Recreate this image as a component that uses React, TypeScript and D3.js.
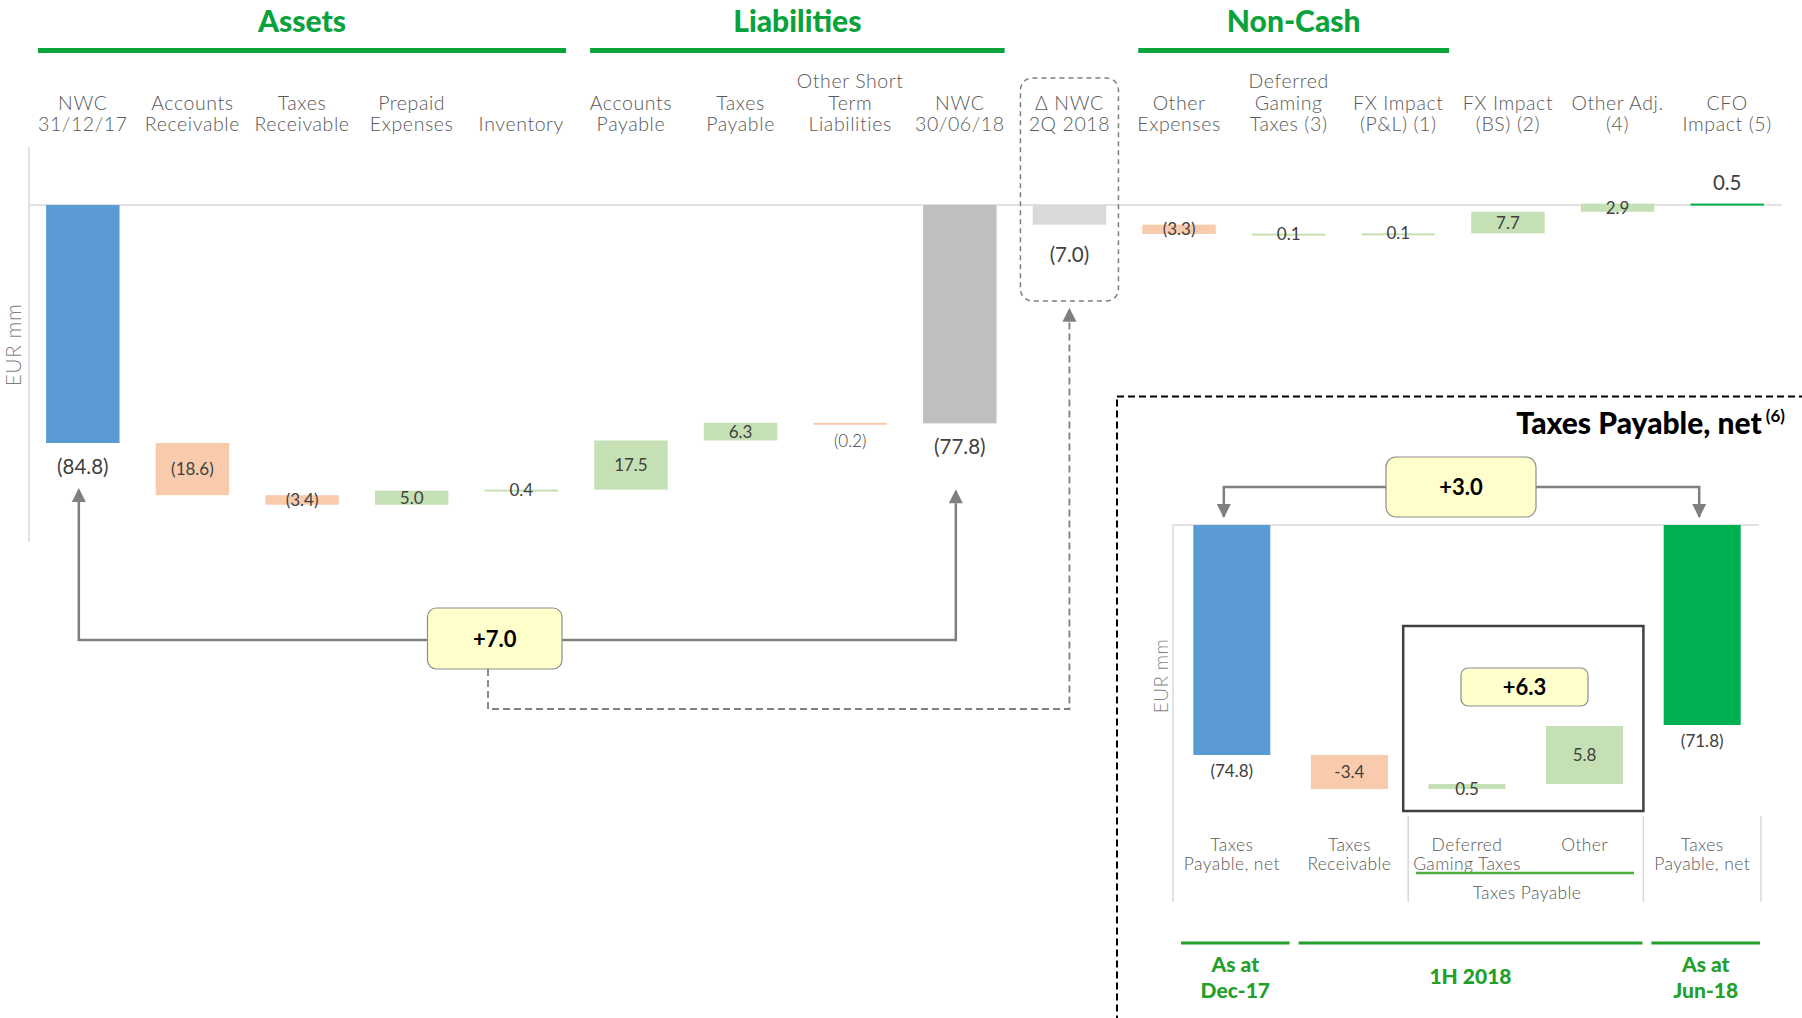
import React from "react";
import * as d3 from "d3";

// ---------- Main waterfall data ----------
const categories = [
  "NWC 31/12/17", "Accounts Receivable", "Taxes Receivable", "Prepaid Expenses", "Inventory",
  "Accounts Payable", "Taxes Payable", "Other Short Term Liabilities", "NWC 30/06/18",
  "Δ NWC 2Q 2018", "Other Expenses", "Deferred Gaming Taxes (3)", "FX Impact (P&L) (1)",
  "FX Impact (BS) (2)", "Other Adj. (4)", "CFO Impact (5)",
];
const categoryLines = [
  ["NWC", "31/12/17"], ["Accounts", "Receivable"], ["Taxes", "Receivable"], ["Prepaid", "Expenses"],
  ["Inventory"], ["Accounts", "Payable"], ["Taxes", "Payable"], ["Other Short", "Term", "Liabilities"],
  ["NWC", "30/06/18"], ["Δ NWC", "2Q 2018"], ["Other", "Expenses"], ["Deferred", "Gaming", "Taxes (3)"],
  ["FX Impact", "(P&L) (1)"], ["FX Impact", "(BS) (2)"], ["Other Adj.", "(4)"], ["CFO", "Impact (5)"],
];
const values = [-84.8, -18.6, -3.4, 5.0, 0.4, 17.5, 6.3, -0.2, -77.8, -7.0, -3.3, 0.1, 0.1, 7.7, 2.9, 0.5];
const kinds = ["total", "delta", "delta", "delta", "delta", "delta", "delta", "delta", "total",
  "total", "delta", "delta", "delta", "delta", "delta", "total"];
const groups = [
  { name: "Assets", from: "NWC 31/12/17", to: "Inventory" },
  { name: "Liabilities", from: "Accounts Payable", to: "NWC 30/06/18" },
  { name: "Non-Cash", from: "Other Expenses", to: "FX Impact (P&L) (1)" },
];
const bridgeLabel = "+7.0";

// ---------- Inset data ----------
const insetCategories = ["Taxes Payable, net Dec-17", "Taxes Receivable", "Deferred Gaming Taxes", "Other", "Taxes Payable, net Jun-18"];
const insetLines = [["Taxes", "Payable, net"], ["Taxes", "Receivable"], ["Deferred", "Gaming Taxes"], ["Other"], ["Taxes", "Payable, net"]];
const insetValues = [-74.8, -3.4, 0.5, 5.8, -71.8];
const insetKinds = ["total", "delta", "delta", "delta", "total"];
const insetLabels = ["(74.8)", "-3.4", "0.5", "5.8", "(71.8)"];
const insetPeriods = [
  { lines: ["As at", "Dec-17"], from: 0, to: 0 },
  { lines: ["1H 2018"], from: 1, to: 3 },
  { lines: ["As at", "Jun-18"], from: 4, to: 4 },
];
const insetTotalChange = "+3.0";
const insetSubChange = "+6.3";

// ---------- styles ----------
const GREEN = "#0AA23B";
const FONT = "Lato, 'Open Sans', sans-serif";
const totalColors: Record<string, string> = {
  "NWC 31/12/17": "#5B9BD5",
  "NWC 30/06/18": "#BFBFBF",
  "Δ NWC 2Q 2018": "#D9D9D9",
  "CFO Impact (5)": "#00B050",
};
const POS = "#C5E0B4";
const NEG = "#F8CBAD";

const fmt = (v: number) => (v < 0 ? `(${Math.abs(v).toFixed(1)})` : v.toFixed(1));

function Arrow({ x, y, dir }: { x: number; y: number; dir: "up" | "down" }) {
  const h = 14, w = 7;
  const pts = dir === "up"
    ? `${x},${y} ${x - w},${y + h} ${x + w},${y + h}`
    : `${x},${y} ${x - w},${y - h} ${x + w},${y - h}`;
  return <polygon points={pts} fill="#7F7F7F" />;
}

export default function App() {
  // main scales
  const x = d3.scaleBand<string>().domain(categories).range([28, 1782]).paddingInner(0.33).paddingOuter(0.165);
  const y = d3.scaleLinear().domain([0, -84.8]).range([205, 443]);
  const bw = x.bandwidth();
  const cx = (c: string) => (x(c) as number) + bw / 2;

  // waterfall computation
  let run = 0;
  const bars = categories.map((c, i) => {
    const v = values[i];
    let start: number, end: number;
    if (kinds[i] === "total") {
      start = 0; end = v; run = v;
    } else {
      start = run; end = run + v; run = end;
    }
    return { c, v, start, end, kind: kinds[i], i };
  });

  // inset scales
  const xi = d3.scaleBand<string>().domain(insetCategories).range([1173, 1761]).paddingInner(0.345).paddingOuter(0.1725);
  const yi = d3.scaleLinear().domain([-51.8, -74.8]).range([525, 755]);
  const ibw = xi.bandwidth();
  const icx = (c: string) => (xi(c) as number) + ibw / 2;
  let irun = 0;
  const ibars = insetCategories.map((c, i) => {
    const v = insetValues[i];
    let start: number, end: number;
    if (insetKinds[i] === "total") { start = -51.8; end = v; irun = v; }
    else { start = irun; end = irun + v; irun = end; }
    return { c, v, start, end, kind: insetKinds[i], i };
  });

  const nwc1 = cx(categories[0]);
  const nwc2 = cx(categories[8]);
  const dnwc = cx(categories[9]);
  const dnwcBar = bars[9];

  const step = x.step();
  const boxX0 = 427.5, boxX1 = 562, boxY0 = 608, boxY1 = 669;
  const bridgeY = 640;
  const dashX = 488;

  const iStep = xi.step();
  const subBoxX0 = (xi(insetCategories[2]) as number) - (iStep - ibw) / 2;
  const subBoxX1 = (xi(insetCategories[3]) as number) + ibw + (iStep - ibw) / 2;

  return (
    <svg width={1802} height={1018} style={{ position: "absolute", left: 0, top: 0, background: "#fff" }} fontFamily={FONT}>
      {/* group headers */}
      {groups.map((g, gi) => {
        const x0 = (x(g.from) as number) - (step - bw) / 2 + (gi === 0 ? 10 : 14);
        const x1 = (x(g.to) as number) + bw + (step - bw) / 2 - (gi === 2 ? 4 : 10);
        return (
          <g key={g.name}>
            <text x={(x0 + x1) / 2} y={32} textAnchor="middle" fontSize={30} fontWeight={900} fill={GREEN}>{g.name}</text>
            <line x1={x0} x2={x1} y1={50.5} y2={50.5} stroke={GREEN} strokeWidth={5} />
          </g>
        );
      })}

      {/* category labels */}
      {categories.map((c, i) => {
        const lines = categoryLines[i];
        return (
          <text key={c} x={cx(c)} textAnchor="middle" fontSize={19.5} fontWeight={300} fill="#595959" letterSpacing={0.6}>
            {lines.map((l, k) => (
              <tspan key={k} x={cx(c)} y={131 - (lines.length - 1 - k) * 21.5}>{l}</tspan>
            ))}
          </text>
        );
      })}

      {/* axes */}
      <line x1={29} x2={29} y1={147} y2={542} stroke="#D9D9D9" strokeWidth={1.5} />
      <line x1={29} x2={1782} y1={y(0)} y2={y(0)} stroke="#D9D9D9" strokeWidth={1.5} />
      <text transform={`translate(21,345) rotate(-90)`} textAnchor="middle" fontSize={21} fontWeight={300} fill="#7F7F7F" letterSpacing={0.5}>EUR mm</text>

      {/* Δ NWC dashed box */}
      <rect x={dnwc - 49} y={78} width={98} height={223} rx={12} fill="none" stroke="#7F7F7F" strokeWidth={1.5} strokeDasharray="5,4" />

      {/* bars */}
      {bars.map((b) => {
        const top = Math.min(y(b.start), y(b.end));
        const h = Math.max(Math.abs(y(b.end) - y(b.start)), 2);
        const fill = b.kind === "total" ? totalColors[b.c] : b.v >= 0 ? POS : NEG;
        return <rect key={b.c} x={x(b.c)} y={b.kind === "total" && b.v > 0 ? y(b.end) : top} width={bw} height={h} fill={fill} />;
      })}

      {/* value labels */}
      {bars.map((b) => {
        const xc = cx(b.c);
        if (b.kind === "total") {
          const isPos = b.v > 0;
          const yy = isPos ? y(b.end) - 14 : y(b.end) + (b.c === categories[9] ? 37 : 31);
          return <text key={b.c} x={xc} y={yy} textAnchor="middle" fontSize={20.5} fill="#404040">{fmt(b.v)}</text>;
        }
        const mid = (y(b.start) + y(b.end)) / 2;
        const below = b.v < 0 && Math.abs(b.v) < 0.3;
        return (
          <text key={b.c} x={xc} y={below ? y(b.end) + 24 : mid + 6} textAnchor="middle" fontSize={17} fill="#404040" fontWeight={below ? 300 : 400}>
            {fmt(b.v)}
          </text>
        );
      })}

      {/* +7.0 bridge */}
      <g stroke="#7F7F7F" strokeWidth={2.5} fill="none">
        <polyline points={`${nwc1 - 4},${y(values[0]) + 59} ${nwc1 - 4},${bridgeY} ${boxX0},${bridgeY}`} />
        <polyline points={`${boxX1},${bridgeY} ${nwc2 - 4},${bridgeY} ${nwc2 - 4},${y(values[8]) + 80}`} />
      </g>
      <Arrow x={nwc1 - 4} y={y(values[0]) + 45} dir="up" />
      <Arrow x={nwc2 - 4} y={y(values[8]) + 66} dir="up" />
      <polyline points={`${dashX},${boxY1} ${dashX},709 ${dnwc},709 ${dnwc},322`} fill="none" stroke="#7F7F7F" strokeWidth={1.8} strokeDasharray="7,4" />
      <Arrow x={dnwc} y={y(dnwcBar.end) + 83} dir="up" />
      <rect x={boxX0} y={boxY0} width={boxX1 - boxX0} height={boxY1 - boxY0} rx={9} fill="#FFFFCC" stroke="#8C8C8C" strokeWidth={1.2} />
      <text x={(boxX0 + boxX1) / 2} y={(boxY0 + boxY1) / 2 + 8} textAnchor="middle" fontSize={22} fontWeight={700} fill="#000">{bridgeLabel}</text>

      {/* ---------- inset ---------- */}
      <rect x={1117} y={396.5} width={800} height={800} fill="none" stroke="#000" strokeWidth={2} strokeDasharray="7,4" />
      <text x={1785} y={434} textAnchor="end" fontSize={30} fontWeight={900} fill="#000">
        Taxes Payable, net<tspan fontSize={17} fontWeight={700} dy={-12} dx={4}>(6)</tspan>
      </text>

      <line x1={1173} x2={1759} y1={525} y2={525} stroke="#D9D9D9" strokeWidth={1.5} />
      <line x1={1173} x2={1173} y1={525} y2={902} stroke="#D9D9D9" strokeWidth={1.5} />
      {[2, 4].map((k) => {
        const xs = (xi(insetCategories[k]) as number) - (iStep - ibw) / 2;
        return <line key={k} x1={xs} x2={xs} y1={816} y2={902} stroke="#D9D9D9" strokeWidth={1.5} />;
      })}
      <line x1={1761} x2={1761} y1={816} y2={902} stroke="#D9D9D9" strokeWidth={1.5} />
      <text transform={`translate(1168,676) rotate(-90)`} textAnchor="middle" fontSize={19} fontWeight={300} fill="#7F7F7F" letterSpacing={0.4}>EUR mm</text>

      {ibars.map((b) => {
        const top = Math.min(yi(b.start), yi(b.end));
        const h = Math.max(Math.abs(yi(b.end) - yi(b.start)), 4);
        const fill = b.kind === "total" ? (b.i === 0 ? "#5B9BD5" : "#00B050") : b.v >= 0 ? POS : NEG;
        return <rect key={b.c} x={xi(b.c)} y={top} width={ibw} height={h} fill={fill} />;
      })}
      {ibars.map((b) => {
        const xc = icx(b.c);
        const yy = b.kind === "total" ? yi(b.end) + 22 : (yi(b.start) + yi(b.end)) / 2 + 6 + (Math.abs(b.v) < 1 ? 2 : 0);
        return <text key={b.c} x={xc} y={yy} textAnchor="middle" fontSize={17} fill="#404040">{insetLabels[b.i]}</text>;
      })}

      {/* sub box +6.3 */}
      <rect x={subBoxX0 - 5} y={626} width={subBoxX1 - subBoxX0 + 5} height={185} fill="none" stroke="#404040" strokeWidth={2.5} />
      <rect x={1461} y={668} width={127} height={38} rx={7} fill="#FFFFCC" stroke="#8C8C8C" strokeWidth={1.2} />
      <text x={1524.5} y={695} textAnchor="middle" fontSize={22} fontWeight={700} fill="#000">{insetSubChange}</text>

      {/* +3.0 bridge */}
      <polyline points={`${icx(insetCategories[0]) - 8},517 ${icx(insetCategories[0]) - 8},487 1386,487`} fill="none" stroke="#7F7F7F" strokeWidth={2.5} />
      <polyline points={`1536,487 ${icx(insetCategories[4]) - 3},487 ${icx(insetCategories[4]) - 3},517`} fill="none" stroke="#7F7F7F" strokeWidth={2.5} />
      <Arrow x={icx(insetCategories[0]) - 8} y={518} dir="down" />
      <Arrow x={icx(insetCategories[4]) - 3} y={518} dir="down" />
      <rect x={1386} y={457} width={150} height={60} rx={10} fill="#FFFFCC" stroke="#8C8C8C" strokeWidth={1.2} />
      <text x={1461} y={495} textAnchor="middle" fontSize={22} fontWeight={700} fill="#000">{insetTotalChange}</text>

      {/* inset category labels */}
      {insetCategories.map((c, i) => (
        <text key={c} textAnchor="middle" fontSize={17.5} fontWeight={300} fill="#595959" letterSpacing={0.4}>
          {insetLines[i].map((l, k) => (
            <tspan key={k} x={icx(c)} y={851 + k * 19}>{l}</tspan>
          ))}
        </text>
      ))}
      <line x1={1416} x2={1634} y1={873} y2={873} stroke="#4CAF3C" strokeWidth={2.5} />
      <text x={1527} y={899} textAnchor="middle" fontSize={17.5} fontWeight={300} fill="#595959" letterSpacing={0.4}>Taxes Payable</text>

      {/* periods */}
      {insetPeriods.map((p, k) => {
        const x0 = (xi(insetCategories[p.from]) as number) - (iStep - ibw) / 2 + 8;
        const x1 = (xi(insetCategories[p.to]) as number) + ibw + (iStep - ibw) / 2 - 1;
        const xc = (x0 + x1) / 2;
        return (
          <g key={k}>
            <line x1={x0} x2={x1} y1={943} y2={943} stroke="#22A02A" strokeWidth={3} />
            <text textAnchor="middle" fontSize={21} fontWeight={900} fill="#22A02A">
              {p.lines.length === 1
                ? <tspan x={xc} y={984}>{p.lines[0]}</tspan>
                : p.lines.map((l, j) => <tspan key={j} x={xc} y={972 + j * 26}>{l}</tspan>)}
            </text>
          </g>
        );
      })}
    </svg>
  );
}
